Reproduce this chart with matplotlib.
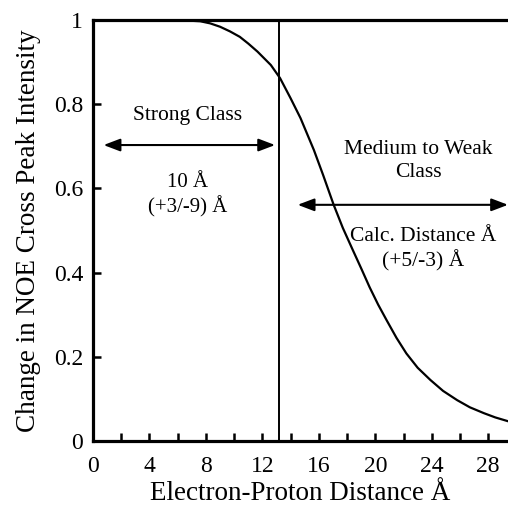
import numpy as np
import matplotlib
matplotlib.use("Agg")
import matplotlib.pyplot as plt

plt.rcParams['font.family'] = ['Liberation Serif', 'DejaVu Serif']

# curve
dist = [0, 5, 6.5, 7.6, 8.3, 9.0, 9.7, 10.4, 11.0, 11.65, 12.6, 13.25, 14.0, 14.7,
        15.65, 16.3, 17.05, 17.7, 18.4, 19.0, 19.6, 20.2, 20.8, 21.5, 22.2, 23.0,
        23.9, 24.8, 25.8, 26.7, 27.7, 28.5, 29.4]
noe = [1.0, 1.0, 0.999, 0.997, 0.992, 0.984, 0.973, 0.960, 0.944, 0.925, 0.893, 0.862,
       0.814, 0.767, 0.691, 0.632, 0.561, 0.506, 0.454, 0.410, 0.365, 0.324, 0.287,
       0.245, 0.208, 0.174, 0.145, 0.119, 0.097, 0.080, 0.066, 0.056, 0.047]

cutoff = 13.2
xticks = list(range(0, 30, 2))
xlabels = [str(t) if t % 4 == 0 else "" for t in xticks]
yticks = [0, 0.2, 0.4, 0.6, 0.8, 1]
ylabels = ["0", "0.2", "0.4", "0.6", "0.8", "1"]

fig = plt.figure(figsize=(5.08, 5.13), dpi=100)
ax = fig.add_axes([93 / 508, 72 / 513, 1 - 93 / 508, 421 / 513])

ax.plot(dist, noe, color="black", lw=1.6, solid_joinstyle="round")
ax.axvline(cutoff, color="black", lw=1.4)

ax.set_xlim(0, 29.4)
ax.set_ylim(0, 1)
ax.set_xticks(xticks)
ax.set_xticklabels(xlabels)
ax.set_yticks(yticks)
ax.set_yticklabels(ylabels)
ax.tick_params(axis="x", direction="in", length=5.5, width=1.8, pad=11, labelsize=17)
ax.tick_params(axis="y", direction="in", length=6, width=1.8, pad=7, labelsize=17)

for s in ["left", "bottom", "top"]:
    ax.spines[s].set_linewidth(2.3)
ax.spines["right"].set_visible(False)

ax.set_xlabel("Electron-Proton Distance Å", fontsize=19.5, labelpad=3)
ax.set_ylabel("Change in NOE Cross Peak Intensity", fontsize=19.5, labelpad=9)

arrow = dict(arrowstyle="<|-|>,head_length=1.0,head_width=0.38", color="black",
             lw=1.5, shrinkA=0, shrinkB=0)
ax.annotate("", xy=(0.75, 0.703), xytext=(12.9, 0.703), arrowprops=arrow)
ax.annotate("", xy=(14.5, 0.561), xytext=(29.4, 0.561), arrowprops=arrow,
            annotation_clip=False)

ax.text(6.7, 0.774, "Strong Class", ha="center", va="center", fontsize=15.5)
ax.text(6.7, 0.583, "10 Å\n(+3/-9) Å", ha="center", va="center", fontsize=15,
        linespacing=1.25)
ax.text(23.05, 0.665, "Medium to Weak\nClass", ha="center", va="center",
        fontsize=15.5, linespacing=1.25)
ax.text(23.4, 0.456, "Calc. Distance Å\n(+5/-3) Å", ha="center", va="center",
        fontsize=15.5, linespacing=1.25)

fig.savefig("out.png", dpi=100)
